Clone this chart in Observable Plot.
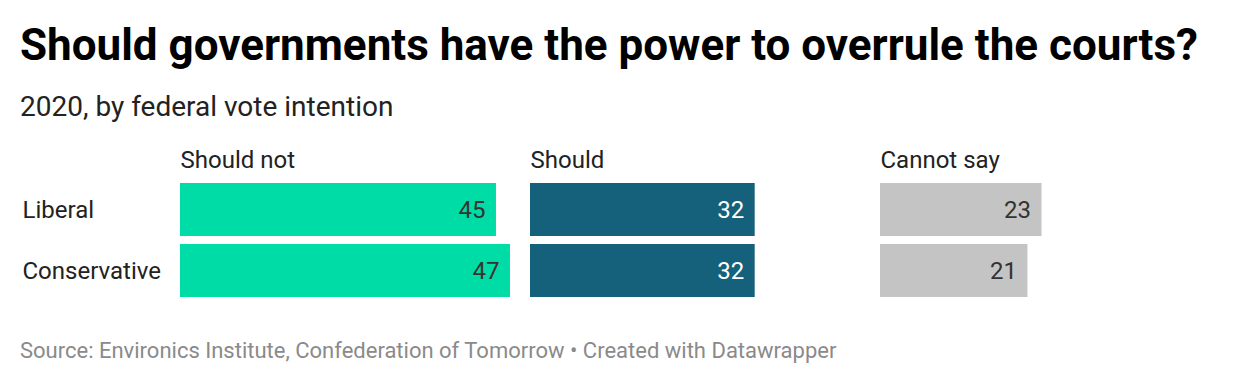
<!DOCTYPE html>
<html>
<head>
<meta charset="utf-8">
<script src="https://cdn.jsdelivr.net/npm/d3@7"></script>
<script src="https://cdn.jsdelivr.net/npm/@observablehq/plot@0.6"></script>
<style>
  html, body { margin: 0; padding: 0; background: #fff; }
  body { width: 1240px; height: 384px; overflow: hidden; font-family: Roboto, "Noto Sans", sans-serif; }
  #wrap { position: relative; width: 1240px; height: 384px; }
  h1 { position: absolute; left: 20px; top: 23px; margin: 0; font-size: 44px; font-weight: 700; color: #000; line-height: 1; white-space: nowrap; }
  .sub { position: absolute; left: 20px; top: 93px; margin: 0; font-size: 28px; color: #222; line-height: 1; white-space: nowrap; }
  #chart { position: absolute; left: 0; top: 135px; }
  .foot { position: absolute; left: 20px; top: 340px; font-size: 22px; color: #8a8a8a; line-height: 1; white-space: nowrap; }
</style>
</head>
<body>
<div id="wrap">
  <h1>Should governments have the power to overrule the courts?</h1>
  <div class="sub">2020, by federal vote intention</div>
  <div id="chart"></div>
  <div class="foot">Source: Environics Institute, Confederation of Tomorrow • Created with Datawrapper</div>
</div>
<script>
const parties = ["Liberal", "Conservative"];
const answers = ["Should not", "Should", "Cannot say"];
const shouldNot = [45, 47];
const should = [32, 32];
const cannotSay = [23, 21];
const colors = ["#00dca6", "#15607a", "#c4c4c4"];
const labelColors = ["#333333", "#ffffff", "#333333"];

const series = [shouldNot, should, cannotSay];
const data = [];
answers.forEach((a, i) => parties.forEach((p, j) => data.push({answer: a, party: p, value: series[i][j], ai: i})));

const chart = Plot.plot({
  width: 1240,
  height: 170,
  marginLeft: 180,
  marginRight: 30,
  marginTop: 47,
  marginBottom: 7,
  style: {fontFamily: "Roboto, sans-serif", fontSize: "24px", color: "#222"},
  fx: {domain: answers, paddingInner: 20 / 350, paddingOuter: 0, axis: null},
  x: {domain: [0, 47], axis: null},
  y: {domain: parties, paddingInner: 8 / 62, paddingOuter: 0, axis: null},
  marks: [
    Plot.barX(data, {fx: "answer", y: "party", x: "value", fill: d => colors[d.ai]}),
    Plot.text(data, {fx: "answer", y: "party", x: "value", text: d => String(d.value),
      textAnchor: "end", dx: -11, fill: d => labelColors[d.ai], fontSize: 24}),
    Plot.text(answers, {fx: d => d, text: d => d, frameAnchor: "top-left", textAnchor: "start",
      lineAnchor: "bottom", dy: -15, fontSize: 24, fill: "#222"}),
    Plot.text(parties, {fx: () => "Should not", y: d => d, text: d => d, frameAnchor: "left",
      textAnchor: "start", dx: -158, fontSize: 24, fill: "#222"})
  ]
});
document.getElementById("chart").appendChild(chart);
</script>
</body>
</html>
